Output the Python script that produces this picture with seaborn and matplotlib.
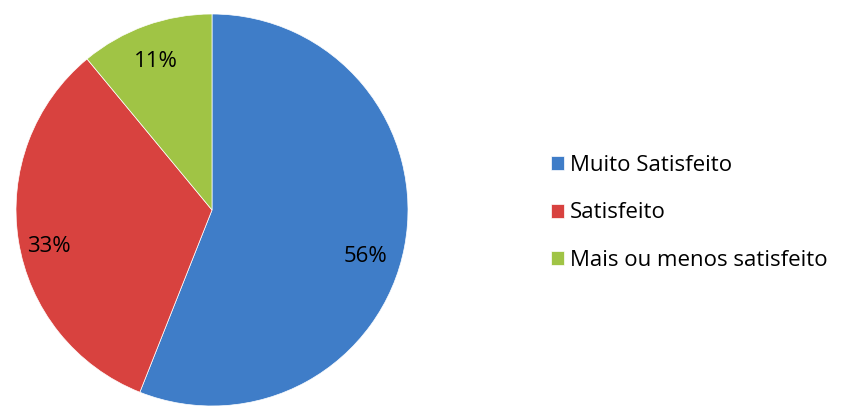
import numpy as np
import matplotlib
matplotlib.use("Agg")
import matplotlib.pyplot as plt
import seaborn as sns

categorias = ['Muito Satisfeito', 'Satisfeito', 'Mais ou menos satisfeito']
valores = [56, 33, 11]
cores = ['#3F7DC8', '#D8423F', '#A0C445']

# posição dos rótulos (distância do centro, desvio angular em graus)
pos_rotulos = [(0.82, -6.2), (0.85, 3.5), (0.81, 0.8)]

sns.set_theme(style="white")
plt.rcParams['font.family'] = ['Open Sans', 'DejaVu Sans']

fig = plt.figure(figsize=(8.41, 4.12), dpi=100)
ax = fig.add_axes([16 / 841, 6 / 412, 392 / 841, 392 / 412])

wedges, textos, pcts = ax.pie(
    valores, colors=sns.color_palette(cores), startangle=90, counterclock=False,
    autopct='%1.0f%%', pctdistance=0.8, radius=1.0,
    wedgeprops=dict(edgecolor='white', linewidth=0.5),
    textprops=dict(fontsize=16, color='black'))

for w, t, (d, off) in zip(wedges, pcts, pos_rotulos):
    ang = np.deg2rad((w.theta1 + w.theta2) / 2 + off)
    t.set_position((d * np.cos(ang), d * np.sin(ang)))

ax.set_xlim(-1, 1)
ax.set_ylim(-1, 1)
ax.set_aspect('equal')
ax.axis('off')

leg = fig.legend(wedges, categorias, loc='center left', bbox_to_anchor=(531 / 841, 199 / 412),
                 frameon=False, fontsize=16, handlelength=0.6, handleheight=0.6,
                 handletextpad=0.25, labelspacing=1.2)
for t in leg.get_texts():
    t.set_color('black')

fig.savefig('out.png', dpi=100, facecolor='white')
